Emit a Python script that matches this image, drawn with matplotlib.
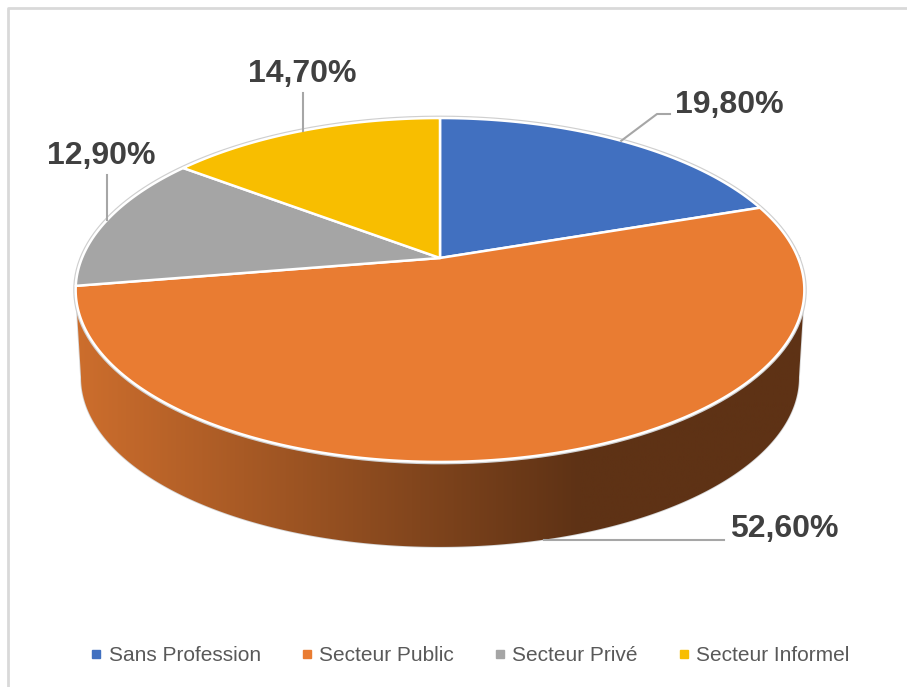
import numpy as np
import matplotlib.pyplot as plt
from matplotlib.patches import Polygon
from matplotlib.lines import Line2D

categories = ["Sans Profession", "Secteur Public", "Secteur Privé", "Secteur Informel"]
values = [19.8, 52.6, 12.9, 14.7]
colors = ["#4170c0", "#e97c32", "#a5a5a5", "#f8be00"]

# label layout (pixel coords of the 907x687 canvas)
label_pos = [(729, 105), (784, 529), (101, 156), (302, 74)]

# 3d pie geometry
CX, CY = 440, 258
S, ST, E = 358, 166, 0.186
DEPTH = 88


def proj(phi, r=1.0, bottom=0):
    p = np.radians(phi)
    w = (1 + E * r * np.sin(p)) * (1 + 0.015 * bottom)
    x = CX + S * r * np.cos(p) / w
    y = CY + DEPTH * bottom - ST * r * np.sin(p) / w
    return x, y


fig = plt.figure(figsize=(9.07, 6.87), dpi=100)
ax = fig.add_axes([0, 0, 1, 1])
ax.set_xlim(0, 907)
ax.set_ylim(687, 0)
ax.axis("off")

# chart border (top and left visible)
ax.plot([8, 8, 907], [687, 7.5, 7.5], color="#d9d9d9", lw=2, zorder=0)

# wedge angles, start at 12 o'clock, clockwise
starts, ends = [], []
a = 90.0
for v in values:
    starts.append(a)
    a -= 360 * v / 100
    ends.append(a)

# side wall of the slice that faces the viewer (Secteur Public)
t = np.linspace(starts[1], ends[1], 600)
xt, _ = proj(t)
t = t[np.argmax(xt):np.argmin(xt) + 1]   # between the two silhouettes
xt, yt = proj(t)
xb, yb = proj(t[::-1], bottom=1)
wall = Polygon(np.column_stack([np.r_[xt, xb], np.r_[yt, yb]]), closed=True,
               facecolor="none", edgecolor="#d6d6d6", lw=1.2, zorder=1)
ax.add_patch(wall)
gx = np.linspace(60, 820, 400)
c0 = np.array([205, 110, 45]) / 255
c1 = np.array([94, 50, 21]) / 255
f = np.clip((gx - 75) / (580 - 75), 0, 1)[:, None]
grad = (c0 * (1 - f) + c1 * f)[None, :, :]
im = ax.imshow(grad, extent=(60, 820, 560, 250), aspect="auto", zorder=1)
im.set_clip_path(wall)
ax.set_xlim(0, 907)
ax.set_ylim(687, 0)

# faint outline around the top face
tt = np.linspace(0, 360, 400)
ex, ey = proj(tt)
ax.plot(ex, ey, color="#cfcfcf", lw=3.5, zorder=1.5)

# top face
for s, e, col in zip(starts, ends, colors):
    th = np.linspace(s, e, 200)
    px, py = proj(th)
    pts = np.column_stack([np.r_[CX, px], np.r_[CY, py]])
    ax.add_patch(Polygon(pts, closed=True, facecolor=col, edgecolor="white",
                         lw=1.8, joinstyle="round", zorder=2))

# labels with leader lines
lc = "#a6a6a6"
mids = [(s + e) / 2 for s, e in zip(starts, ends)]
for i, (v, m) in enumerate(zip(values, mids)):
    lx, ly = label_pos[i]
    txt = f"{v:.2f}%".replace(".", ",")
    ax.text(lx, ly, txt, ha="center", va="center", fontsize=23, fontweight="bold",
            color="#404040", family=["Liberation Sans", "DejaVu Sans"], zorder=5)
    if i == 1:
        ax0, ay0 = proj(m, bottom=1)
        ax.plot([ax0, lx - 60], [ay0, ay0], color=lc, lw=1.5, zorder=4)
    elif i == 0:
        ax0, ay0 = proj(m)
        ax.plot([ax0, lx - 72, lx - 59], [ay0, ly + 9, ly + 9], color=lc, lw=1.5, zorder=4)
    else:
        ax0, ay0 = proj(m)
        ax.plot([ax0, ax0], [ay0, ly + 19], color=lc, lw=1.5, zorder=4)

# legend
handles = [Line2D([], [], marker="s", ls="none", color=c, markersize=6) for c in colors]
fig.legend(handles, categories, loc="center", bbox_to_anchor=(0.518, 0.046), ncol=4,
           frameon=False, handlelength=0.6, handletextpad=0.3, columnspacing=1.9,
           prop={"family": ["Liberation Sans", "DejaVu Sans"], "size": 15},
           labelcolor="#595959")

fig.savefig("out.png", dpi=100)
